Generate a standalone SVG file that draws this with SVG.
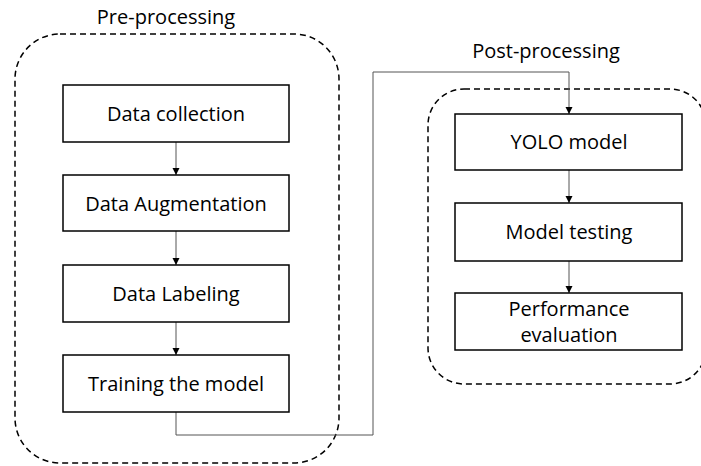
<svg xmlns="http://www.w3.org/2000/svg" width="701" height="466" viewBox="0 0 701 466">
<style>
.group{fill:none;stroke:#000;stroke-width:1.5;stroke-dasharray:6 4}
.box{fill:#fff;stroke:#000;stroke-width:1.5}
.lbl{font-family:"Open Sans","Noto Sans",sans-serif;font-size:20px;fill:#000;text-anchor:middle}
.title{font-family:"Open Sans","Noto Sans",sans-serif;font-size:20px;fill:#000;text-anchor:middle}
.conn{fill:none;stroke:#555;stroke-width:1}
</style>
<defs>
<marker id="ah" markerWidth="8" markerHeight="8" refX="7" refY="4" orient="auto" markerUnits="userSpaceOnUse">
<path d="M0,0.5 L7,4 L0,7.5 Z" fill="#000"/>
</marker>
</defs>
<rect width="701" height="466" fill="#fff"/>
<g id="pre-processing">
<rect class="group" x="15" y="34" width="324" height="429" rx="45" ry="45"/>
<text class="title" x="166" y="24">Pre-processing</text>
</g>
<g id="post-processing">
<rect class="group" x="428" y="89" width="278" height="295" rx="36" ry="36"/>
<text class="title" x="546" y="58">Post-processing</text>
</g>
<g id="connectors">
<path class="conn" d="M176,142 V175" marker-end="url(#ah)"/>
<path class="conn" d="M176,231 V265" marker-end="url(#ah)"/>
<path class="conn" d="M176,322 V355" marker-end="url(#ah)"/>
<path class="conn" d="M176,412 V435 H373 V72 H569 V114" marker-end="url(#ah)"/>
<path class="conn" d="M569,170 V203" marker-end="url(#ah)"/>
<path class="conn" d="M569,261 V293" marker-end="url(#ah)"/>
</g>
<g id="data-collection">
<rect class="box" x="63" y="85" width="226" height="57"/>
<text class="lbl" x="176" y="121">Data collection</text>
</g>
<g id="data-augmentation">
<rect class="box" x="63" y="175" width="226" height="56"/>
<text class="lbl" x="176" y="211">Data Augmentation</text>
</g>
<g id="data-labeling">
<rect class="box" x="63" y="265" width="226" height="57"/>
<text class="lbl" x="176" y="301">Data Labeling</text>
</g>
<g id="training-the-model">
<rect class="box" x="63" y="355" width="226" height="57"/>
<text class="lbl" x="176" y="391">Training the model</text>
</g>
<g id="yolo-model">
<rect class="box" x="455" y="114" width="227" height="56"/>
<text class="lbl" x="569" y="149">YOLO model</text>
</g>
<g id="model-testing">
<rect class="box" x="455" y="203" width="227" height="58"/>
<text class="lbl" x="569" y="239">Model testing</text>
</g>
<g id="performance-evaluation">
<rect class="box" x="455" y="293" width="227" height="57"/>
<text class="lbl" x="569" y="316">Performance</text>
<text class="lbl" x="569" y="342">evaluation</text>
</g>
</svg>
